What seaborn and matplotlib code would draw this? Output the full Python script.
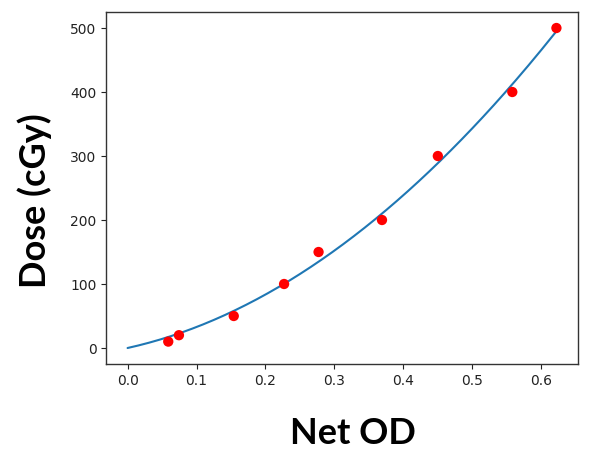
import numpy as np
import pandas as pd
import matplotlib
matplotlib.use("Agg")
import matplotlib.pyplot as plt
import seaborn as sns

net_od = [0.059, 0.0745, 0.154, 0.227, 0.277, 0.369, 0.450, 0.558, 0.622]
dose = [10, 20, 50, 100, 150, 200, 300, 400, 500]
x_ticks = [0.0, 0.1, 0.2, 0.3, 0.4, 0.5, 0.6]
y_ticks = [0, 100, 200, 300, 400, 500]

sns.set_style("ticks")
plt.rcParams['font.family'] = ['DejaVu Sans']

fig = plt.figure(figsize=(6, 4.55), dpi=100)
ax = fig.add_axes([0.177, 0.2, 0.786, 0.7736])

# least-squares fit D = a*x + b*x^2 (through origin)
X = np.column_stack([np.array(net_od), np.array(net_od) ** 2])
coef, *_ = np.linalg.lstsq(X, np.array(dose, dtype=float), rcond=None)
xf = np.linspace(0, max(net_od), 200)
fit = pd.DataFrame({"x": xf, "y": coef[0] * xf + coef[1] * xf ** 2})

sns.lineplot(data=fit, x="x", y="y", ax=ax, color="#1f77b4", linewidth=1.5)
sns.scatterplot(x=net_od, y=dose, ax=ax, color="red", s=55, edgecolor="none", zorder=3)

ax.set_xlim(-0.031, 0.653)
ax.set_ylim(-25, 525)
ax.set_xticks(x_ticks)
ax.set_xticklabels([f"{t:.1f}" for t in x_ticks])
ax.set_yticks(y_ticks)
ax.tick_params(labelsize=10, colors="#222222")
for s in ax.spines.values():
    s.set_visible(True)
    s.set_color("#333333")
    s.set_linewidth(1.0)
ax.set_xlabel("")
ax.set_ylabel("")

fig.text(0.588, 0.047, "Net OD", ha="center", va="center", fontsize=26,
         fontweight="bold", color="black", family=["Lato", "DejaVu Sans"])
fig.text(0.058, 0.56, "Dose (cGy)", ha="center", va="center", fontsize=26,
         fontweight="bold", color="black", rotation=90, family=["Lato", "DejaVu Sans"])

fig.savefig("out.png", dpi=100)
